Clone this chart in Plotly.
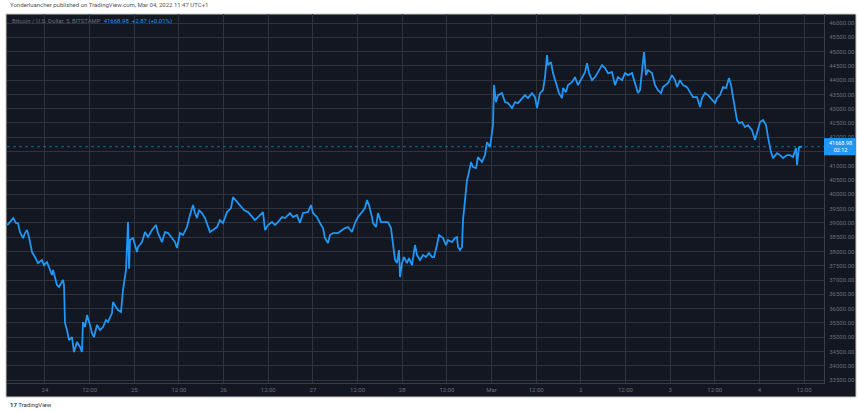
import pandas as pd
import plotly.graph_objects as go

# hours since 2022-02-24 00:00 and BTC/USD price
hours = [-10.13, -9.41, -8.52, -7.79, -7.26, -6.72, -5.91, -5.38, -4.84, -4.30, -3.49, -2.69, -1.88, -0.81, -0.27,
         0.54, 1.34, 1.88, 2.15, 3.23, 3.76, 4.84, 5.11, 5.38, 5.91, 6.45, 7.26, 7.79, 8.60, 9.41, 9.94, 10.21,
         10.75, 11.29, 12.09, 12.63, 13.17, 13.98, 14.78, 15.59, 16.39, 16.93, 18.01, 18.28, 19.08, 19.62, 20.43,
         20.96, 21.77, 22.04, 22.31, 22.60, 22.84, 23.65, 24.73, 25.00, 26.07, 26.88, 27.68, 28.76, 29.83, 30.37,
         31.44, 32.25, 33.06, 34.13, 34.94, 35.48, 36.28, 37.09, 38.16, 38.97, 39.78, 40.31, 40.85, 41.39, 42.19,
         43.00, 43.54, 44.35, 45.15, 46.23, 47.03, 47.84, 48.91, 49.99, 50.53, 51.60, 52.41, 53.48, 54.56, 55.63,
         56.44, 57.25, 58.59, 59.13, 59.93, 61.01, 61.81, 62.62, 63.70, 64.50, 65.85, 66.65, 67.73, 68.53, 69.34,
         70.68, 71.49, 72.03, 73.10, 73.91, 74.71, 75.25, 76.06, 76.60, 77.40, 78.75, 79.82, 80.63, 81.43, 82.51,
         83.32, 84.12, 85.20, 86.00, 86.54, 87.08, 87.88, 88.15, 88.96, 89.50, 90.30, 91.11, 92.18, 92.99, 93.53,
         94.07, 94.60, 95.14, 95.41, 95.95, 96.48, 97.29, 97.83, 98.63, 99.44, 99.98, 100.78, 101.59, 102.40,
         103.20, 104.01, 104.55, 105.35, 105.89, 106.97, 107.77, 108.31, 109.39, 110.19, 110.73, 111.00, 111.54,
         112.07, 112.34, 112.88, 113.42, 113.95, 114.49, 115.03, 115.84, 116.37, 117.45, 118.25, 118.79, 119.60,
         120.40, 120.67, 121.21, 121.74, 122.82, 123.63, 124.44, 125.51, 126.32, 127.12, 128.20, 129.00, 129.81,
         130.89, 131.69, 132.23, 133.04, 133.84, 134.38, 134.92, 135.19, 135.99, 136.53, 137.07, 137.61, 138.14,
         138.95, 139.22, 140.02, 140.56, 141.64, 142.44, 143.25, 144.32, 145.13, 145.67, 146.21, 147.01, 147.82,
         148.62, 149.70, 150.51, 151.31, 152.39, 153.19, 154.00, 155.08, 155.88, 156.69, 157.76, 158.57, 159.37,
         159.91, 160.45, 160.99, 161.52, 162.06, 163.14, 163.94, 164.75, 165.56, 166.09, 167.44, 168.51, 169.32,
         169.86, 170.66, 171.47, 172.54, 173.35, 174.16, 175.23, 176.04, 176.57, 177.38, 178.19, 179.26, 180.07,
         180.61, 181.41, 182.22, 183.03, 183.83, 184.37, 184.91, 185.44, 185.98, 186.52, 187.33, 188.13, 188.94,
         190.01, 190.82, 191.36, 192.16, 192.97, 193.78, 194.31, 195.12, 195.66, 196.73, 197.54, 198.35, 199.42,
         200.23, 201.03, 201.84, 202.11, 202.64, 203.45]
prices = [38925, 39030, 39170, 38995, 38995, 38680, 38470, 38645, 38750, 38505, 37980, 37805, 37595, 37700, 37525,
          37630, 37350, 37175, 37350, 36825, 36755, 37000, 36825, 35495, 35250, 34900, 35005, 34480, 34830, 34655,
          34480, 35530, 35355, 35775, 35425, 35145, 35005, 35425, 35250, 35355, 35600, 35530, 35845, 36230, 36055,
          35950, 35880, 36650, 37350, 38155, 39030, 37400, 38400, 38470, 37980, 38155, 38330, 38680, 38505, 38750,
          38925, 38645, 38330, 38680, 38645, 38470, 38330, 38120, 38645, 38575, 38855, 39275, 39625, 39345, 39170,
          39450, 39345, 39170, 38995, 38680, 38750, 38855, 39100, 38995, 39380, 39520, 39905, 39730, 39625, 39450,
          39380, 39205, 39100, 39205, 39380, 38750, 38925, 39030, 38925, 39030, 39205, 39170, 39345, 39205, 39275,
          38995, 39345, 39380, 39625, 39345, 39205, 38995, 38820, 38470, 38295, 38575, 38645, 38645, 38750, 38820,
          38855, 38680, 38995, 39205, 39380, 39520, 39800, 39625, 39205, 38995, 38855, 39345, 39030, 39030, 39030,
          38820, 38295, 37700, 37595, 38050, 37105, 37595, 37805, 37595, 37770, 37525, 38225, 37875, 37700, 37875,
          37805, 37945, 37805, 37805, 38225, 38575, 38470, 38225, 38400, 38330, 38470, 38505, 38155, 38050, 38155,
          39100, 39800, 40500, 40780, 41130, 40955, 40920, 41305, 41130, 41375, 41830, 41655, 42425, 43825, 43230,
          43475, 43545, 43230, 43195, 43020, 43230, 43195, 43370, 43475, 43370, 43545, 43405, 43020, 43545, 43650,
          44105, 44875, 44525, 44630, 44245, 44000, 43755, 43545, 43370, 43720, 43580, 43825, 43930, 44105, 43825,
          44105, 44280, 44595, 44245, 44000, 44105, 44280, 44525, 44420, 44245, 44280, 43825, 44105, 44000, 44245,
          44175, 44245, 43930, 43545, 43650, 44245, 44980, 44175, 44350, 44245, 43825, 43650, 43545, 43755, 43895,
          44175, 44000, 43755, 44000, 43825, 43755, 43580, 43405, 43405, 43055, 43370, 43545, 43475, 43300, 43195,
          43370, 43475, 43755, 43720, 44070, 43825, 43405, 43055, 42600, 42495, 42530, 42355, 42425, 42250, 41900,
          42145, 42530, 42600, 42425, 42005, 41480, 41270, 41445, 41375, 41270, 41375, 41375, 41305, 41620, 41025,
          41655, 41669]

last_price = 41668.98
last_change = "+2.87 (+0.01%)"
countdown = "02:12"

x_tick_hours = [0, 12, 24, 36, 48, 60, 72, 84, 96, 108, 120, 132, 144, 156, 168, 180, 192, 204]
x_tick_text = ["24", "12:00", "25", "12:00", "26", "12:00", "27", "12:00", "28", "12:00",
               "Mar", "12:00", "2", "12:00", "3", "12:00", "4", "12:00"]
y_ticks = [33500 + 500 * i for i in range(26)]
# the 41500 label is hidden behind the last-price badge in the original
y_tick_text = ["" if v == 41500 else f"{v:.2f}" for v in y_ticks]

base = pd.Timestamp("2022-02-24 00:00")
times = base + pd.to_timedelta(hours, unit="h")
tickvals = base + pd.to_timedelta(x_tick_hours, unit="h")

W, H = 859, 412
def px(x):
    return x / W
def py(y):
    return 1 - y / H

BG = "#131722"
GRID = "#2f333e"
TXT = "#6a6e79"
BLUE = "#2196f3"

fig = go.Figure()
fig.add_trace(go.Scatter(x=times, y=prices, mode="lines",
                         line=dict(color=BLUE, width=1.8), hoverinfo="skip", showlegend=False))

fig.update_layout(
    width=W, height=H,
    margin=dict(l=0, r=0, t=0, b=0),
    paper_bgcolor="white",
    plot_bgcolor=BG,
    font=dict(family="Roboto, Arial, sans-serif", size=6, color=TXT),
    xaxis=dict(
        domain=[px(7), px(824)],
        range=[base + pd.Timedelta(hours=-10.21), base + pd.Timedelta(hours=209.36)],
        tickvals=tickvals, ticktext=x_tick_text,
        showgrid=True, gridcolor=GRID, gridwidth=1,
        showline=True, linecolor="#3a3e4a", linewidth=1,
        ticks="", zeroline=False, tickfont=dict(size=6, color=TXT),
        ticklabelstandoff=1,
        fixedrange=True,
    ),
    yaxis=dict(
        domain=[py(383), py(14)],
        range=[33395, 46315],
        side="right",
        tickvals=y_ticks, ticktext=y_tick_text,
        showgrid=True, gridcolor=GRID, gridwidth=1,
        showline=True, linecolor="#3a3e4a", linewidth=1,
        ticks="", zeroline=False, tickfont=dict(size=6, color=TXT),
        ticklabelstandoff=3,
        fixedrange=True,
    ),
    shapes=[
        dict(type="rect", xref="paper", yref="paper", x0=px(6), x1=px(856), y0=py(397), y1=py(14),
             fillcolor=BG, line=dict(color="#c8c8c8", width=1), layer="below"),
        dict(type="line", xref="paper", yref="y", x0=px(7), x1=px(824), y0=last_price, y1=last_price,
             line=dict(color=BLUE, width=1, dash="dot"), opacity=0.6),
        dict(type="rect", xref="paper", yref="y", x0=px(824), x1=px(856),
             y0=last_price - 300, y1=last_price + 300,
             fillcolor=BLUE, line=dict(width=0)),
    ],
    annotations=[
        dict(xref="paper", yref="paper", x=px(8), y=py(5), xanchor="left", yanchor="middle",
             text="Yonderluancher published on TradingView.com, Mar 04, 2022 11:47 UTC+1",
             showarrow=False, font=dict(size=6, color="#555555")),
        dict(xref="paper", yref="paper", x=px(10), y=py(21), xanchor="left", yanchor="middle",
             text=f"Bitcoin / U.S. Dollar, 5, BITSTAMP  <span style='color:{BLUE}'>{last_price:.2f}  {last_change}</span>",
             showarrow=False, font=dict(size=6, color=TXT)),
        dict(xref="paper", yref="y", x=px(840), y=last_price, xanchor="center", yanchor="middle",
             text=f"{last_price:.2f}<br>{countdown}", showarrow=False,
             font=dict(size=5.5, color="white")),
        dict(xref="paper", yref="paper", x=px(8), y=py(404), xanchor="left", yanchor="middle",
             text="<b>17</b> TradingView", showarrow=False, font=dict(size=6, color="#333333")),
    ],
)

fig.write_html("out.html", config={"displayModeBar": False},
               post_script="document.body.style.margin='0';")
